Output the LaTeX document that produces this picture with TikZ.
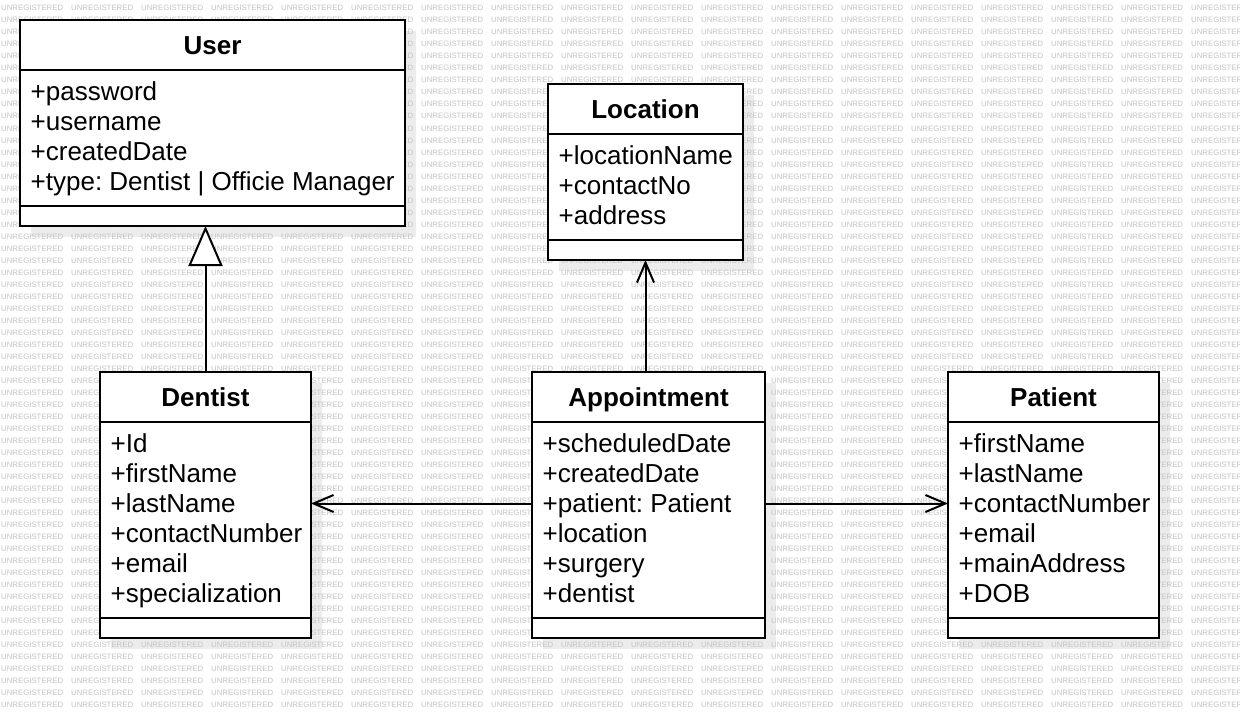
\documentclass[tikz,border=0pt]{standalone}
\usepackage{fontspec}
\setmainfont{Liberation Sans}
\frenchspacing
\usetikzlibrary{arrows.meta}
\pgfdeclarelayer{shadowlayer}
\pgfdeclarelayer{wmlayer}
\pgfsetlayers{shadowlayer,wmlayer,main}
\definecolor{wmgray}{RGB}{195,195,195}
\definecolor{shadowgray}{RGB}{236,236,236}
\newcommand\wmword{\makebox[70pt][l]{UNREGISTERED}}
\newcommand\wmrow{\wmword\wmword\wmword\wmword\wmword\wmword\wmword\wmword\wmword\wmword\wmword\wmword\wmword\wmword\wmword\wmword\wmword\wmword}
\tikzset{
  box/.style={draw, line width=2.2pt, fill=white, inner sep=0pt, outer sep=0pt},
  boxline/.style={line width=2.2pt},
  clstitle/.style={anchor=base, inner sep=0pt, font=\bfseries\fontsize{26}{30}\selectfont},
  clsattr/.style={anchor=base west, inner sep=0pt, font=\fontsize{26}{30}\selectfont},
  wm/.style={anchor=base west, inner sep=0pt, font=\fontsize{7.8}{8}\selectfont, text=wmgray},
  gen/.style={line width=2pt, -{Triangle[open, fill=white, length=40pt, width=34pt]}},
  assoc/.style={line width=2pt, -{Straight Barb[length=20pt, width=17pt]}}
}
% #1 name, #2 x1, #3 y1, #4 x2, #5 y2, #6 header divider, #7 attribute divider, #8 title, #9 attributes
\newcommand\umlclass[9]{%
  \begin{pgfonlayer}{shadowlayer}
    \fill[shadowgray] ({#2+11},{#3+11}) rectangle ({#4+11},{#5+11});
  \end{pgfonlayer}
  \node[box, minimum width={(#4-#2)*1pt}, minimum height={(#5-#3)*1pt}] (#1) at ({(#2+#4)/2},{(#3+#5)/2}) {};
  \draw[boxline] (#1.west |- 0,#6) -- (#1.east |- 0,#6);
  \draw[boxline] (#1.west |- 0,#7) -- (#1.east |- 0,#7);
  \node[clstitle] (#1-title) at ({(#2+#4)/2},{#6-16}) {#8};
  \foreach \t [count=\i] in {#9} \node[clsattr] (#1-attr\i) at ({#2+10.5},{#6+30*\i}) {\t};
}
\begin{document}
\begin{tikzpicture}[x=1pt, y=-1pt]
\useasboundingbox (0,0) rectangle (1240,718);
\begin{pgfonlayer}{shadowlayer}
  \fill[white] (0,0) rectangle (1240,718);
\end{pgfonlayer}
\begin{pgfonlayer}{wmlayer}
  \begin{scope}
    \clip (0,0) rectangle (1240,718);
    \foreach \k in {0,...,58} \node[wm] (wm\k) at (1,{10.8+12.02*\k}) {\wmrow};
  \end{scope}
\end{pgfonlayer}

\umlclass{user}{20}{20}{405}{226}{70}{206}{User}{+password,+username,+createdDate,+type: Dentist | Officie Manager}
\umlclass{location}{548}{84}{743}{260}{134}{240}{Location}{+locationName,+contactNo,+address}
\umlclass{dentist}{100}{372}{311}{638}{422}{618}{Dentist}{+Id,+firstName,+lastName,+contactNumber,+email,+specialization}
\umlclass{appointment}{532}{372}{765}{638}{422}{618}{Appointment}{+scheduledDate,+createdDate,+patient: Patient,+location,+surgery,+dentist}
\umlclass{patient}{948}{372}{1159}{638}{422}{618}{Patient}{+firstName,+lastName,+contactNumber,+email,+mainAddress,+DOB}

\draw[gen] (dentist.north) -- (dentist.north |- user.south);
\draw[assoc] (location.south |- appointment.north) -- (location.south);
\coordinate (apw) at ([yshift=1.5pt]appointment.west);
\coordinate (ape) at ([yshift=1.5pt]appointment.east);
\draw[assoc] (apw) -- (apw -| dentist.east);
\draw[assoc] (ape) -- (ape -| patient.west);
\end{tikzpicture}
\end{document}
